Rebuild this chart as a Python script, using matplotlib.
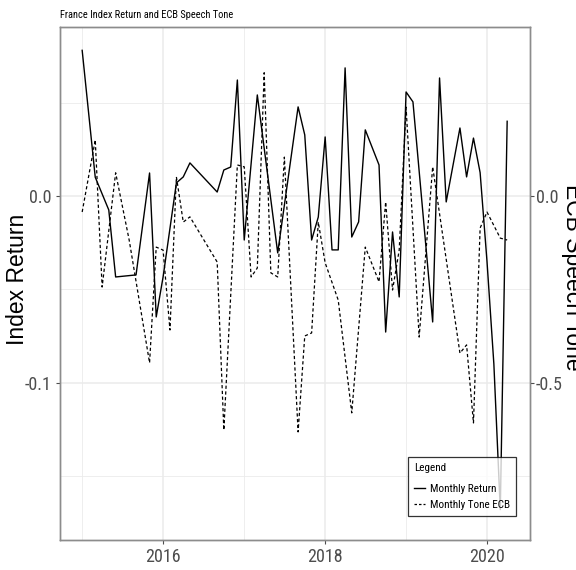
import pandas as pd
import matplotlib
matplotlib.use("Agg")
import matplotlib.pyplot as plt
from matplotlib import font_manager
from matplotlib.lines import Line2D

# monthly index return (left axis)
ret_months = [
    "2015-01", "2015-03", "2015-05", "2015-06", "2015-09", "2015-11", "2015-12",
    "2016-01", "2016-03", "2016-04", "2016-05", "2016-09", "2016-10", "2016-11", "2016-12",
    "2017-01", "2017-03", "2017-06", "2017-09", "2017-10", "2017-11", "2017-12",
    "2018-01", "2018-02", "2018-03", "2018-04", "2018-05", "2018-06", "2018-07",
    "2018-09", "2018-10", "2018-11", "2018-12",
    "2019-01", "2019-02", "2019-05", "2019-06", "2019-07", "2019-09", "2019-10",
    "2019-11", "2019-12", "2020-01", "2020-02", "2020-03", "2020-04",
]
ret_values = [
    0.078, 0.010, -0.0075, -0.0434, -0.0423, 0.0123, -0.0648,
    -0.0434, 0.0070, 0.0102, 0.0177, 0.0021, 0.0139, 0.0155, 0.0621,
    -0.0236, 0.0541, -0.0305, 0.0477, 0.0327, -0.0236, -0.0113,
    0.0316, -0.0289, -0.0289, 0.0686, -0.0220, -0.0139, 0.0354,
    0.0166, -0.0729, -0.0193, -0.0541,
    0.0557, 0.0504, -0.0675, 0.0632, -0.0032, 0.0364, 0.0102,
    0.0310, 0.0125, -0.035, -0.090, -0.168, 0.040,
]

# monthly ECB speech tone (right axis)
tone_months = [
    "2015-01", "2015-03", "2015-04", "2015-06", "2015-08", "2015-11", "2015-12",
    "2016-01", "2016-02", "2016-03", "2016-04", "2016-05", "2016-09", "2016-10", "2016-12",
    "2017-01", "2017-02", "2017-03", "2017-04", "2017-05", "2017-06", "2017-07",
    "2017-09", "2017-10", "2017-11", "2017-12",
    "2018-01", "2018-03", "2018-05", "2018-07", "2018-09", "2018-10", "2018-11", "2018-12",
    "2019-01", "2019-03", "2019-05", "2019-09", "2019-10", "2019-11", "2019-12",
    "2020-01", "2020-03", "2020-04",
]
tone_values = [
    -0.043, 0.150, -0.244, 0.062, -0.118, -0.447, -0.137,
    -0.145, -0.359, 0.051, -0.070, -0.056, -0.177, -0.627, 0.083,
    0.078, -0.217, -0.193, 0.330, -0.206, -0.217, 0.104,
    -0.632, -0.375, -0.367, -0.070,
    -0.179, -0.279, -0.581, -0.137, -0.230, -0.016, -0.252, -0.145,
    0.238, -0.378, 0.078, -0.421, -0.399, -0.608, -0.086,
    -0.043, -0.113, -0.118,
]

TONE_SCALE = 5.0  # right axis = left axis * 5


def has_font(name):
    try:
        font_manager.findfont(name, fallback_to_default=False)
        return True
    except ValueError:
        return False


NARROW = "Liberation Sans"
for cand in ("Roboto Condensed", "Liberation Sans Narrow", "Sofia Sans Semi Condensed"):
    if has_font(cand):
        NARROW = cand
        break
WIDE = "Liberation Sans"
squeezed = NARROW != WIDE
tick_size = 13 if squeezed else 11.5
legend_size = 8 if squeezed else 7
title_size = 7.5 if squeezed else 6.5

plt.rcParams["axes.unicode_minus"] = False

GRID = "#EBEBEB"
TICK_GREY = "#4D4D4D"
BORDER = "#8C8C8C"

ret_dates = pd.to_datetime(ret_months)
tone_dates = pd.to_datetime(tone_months)

fig = plt.figure(figsize=(5.76, 5.70), dpi=100)
ax = fig.add_axes([60 / 576, 30 / 570, 470 / 576, 513 / 570])
ax2 = ax.twinx()

ax.plot(ret_dates, ret_values, color="black", linewidth=1.0)
ax2.plot(tone_dates, tone_values, color="black", linewidth=0.9, dashes=(2.6, 2.0))

ax.set_xlim(pd.Timestamp("2014-09-23"), pd.Timestamp("2020-07-13"))
ylo, yhi = -0.1843, 0.0905
ax.set_ylim(ylo, yhi)
ax2.set_ylim(ylo * TONE_SCALE, yhi * TONE_SCALE)

# grid: major at even years / 0.1 steps, minor halfway between
major_years = [pd.Timestamp(f"{y}-01-01") for y in (2016, 2018, 2020)]
minor_years = [pd.Timestamp(f"{y}-01-01") for y in (2015, 2017, 2019)]
ax.set_xticks(major_years)
ax.set_xticklabels(["2016", "2018", "2020"])
ax.set_xticks(minor_years, minor=True)
ax.set_yticks([-0.1, 0.0])
ax.set_yticklabels(["-0.1", "0.0"])
ax.set_yticks([-0.15, -0.05, 0.05], minor=True)
ax2.set_yticks([-0.5, 0.0])
ax2.set_yticklabels(["-0.5", "0.0"])

ax.grid(True, which="major", color=GRID, linewidth=1.1)
ax.grid(True, which="minor", color=GRID, linewidth=0.6)
ax.set_axisbelow(True)

ax.tick_params(which="minor", length=0)
ax.tick_params(which="major", length=3, width=0.8, color=TICK_GREY,
               labelcolor=TICK_GREY, labelsize=tick_size)
ax.tick_params(axis="y", pad=3)
ax.tick_params(axis="x", pad=3)
ax2.tick_params(which="major", length=3, width=0.8, color=TICK_GREY,
                labelcolor=TICK_GREY, labelsize=tick_size, pad=1)
for lab in ax.get_xticklabels() + ax.get_yticklabels() + ax2.get_yticklabels():
    lab.set_family(NARROW)

for a in (ax, ax2):
    for sp in a.spines.values():
        sp.set_color(BORDER)
        sp.set_linewidth(1.0)

fig.text(60 / 576, 1 - 15 / 570, "France Index Return and ECB Speech Tone",
         family=NARROW, fontsize=title_size, ha="left", va="center")
fig.text(18 / 576, 1 - 279 / 570, "Index Return", family=WIDE, fontsize=16.5,
         rotation=90, ha="center", va="center")
fig.text(561 / 576, 1 - 277 / 570, "ECB Speech Tone", family=WIDE, fontsize=16.5,
         rotation=270, ha="left", va="center")

handles = [
    Line2D([0], [0], color="black", linewidth=1.0, label="Monthly Return"),
    Line2D([0], [0], color="black", linewidth=0.9, dashes=(2.0, 1.6), label="Monthly Tone ECB"),
]
leg = fig.legend(handles=handles, title="Legend", loc="upper left",
                 bbox_to_anchor=(408 / 576, 1 - 457 / 570),
                 prop={"family": NARROW, "size": legend_size},
                 title_fontproperties={"family": NARROW, "size": legend_size},
                 frameon=True, fancybox=False, edgecolor="black",
                 handlelength=1.0, handletextpad=0.4, borderpad=0.55,
                 borderaxespad=0, labelspacing=0.5, alignment="left")
leg.get_frame().set_linewidth(0.9)
leg._legend_box.sep = 8  # extra room between the title and the entries

fig.savefig("out.png", dpi=100)
